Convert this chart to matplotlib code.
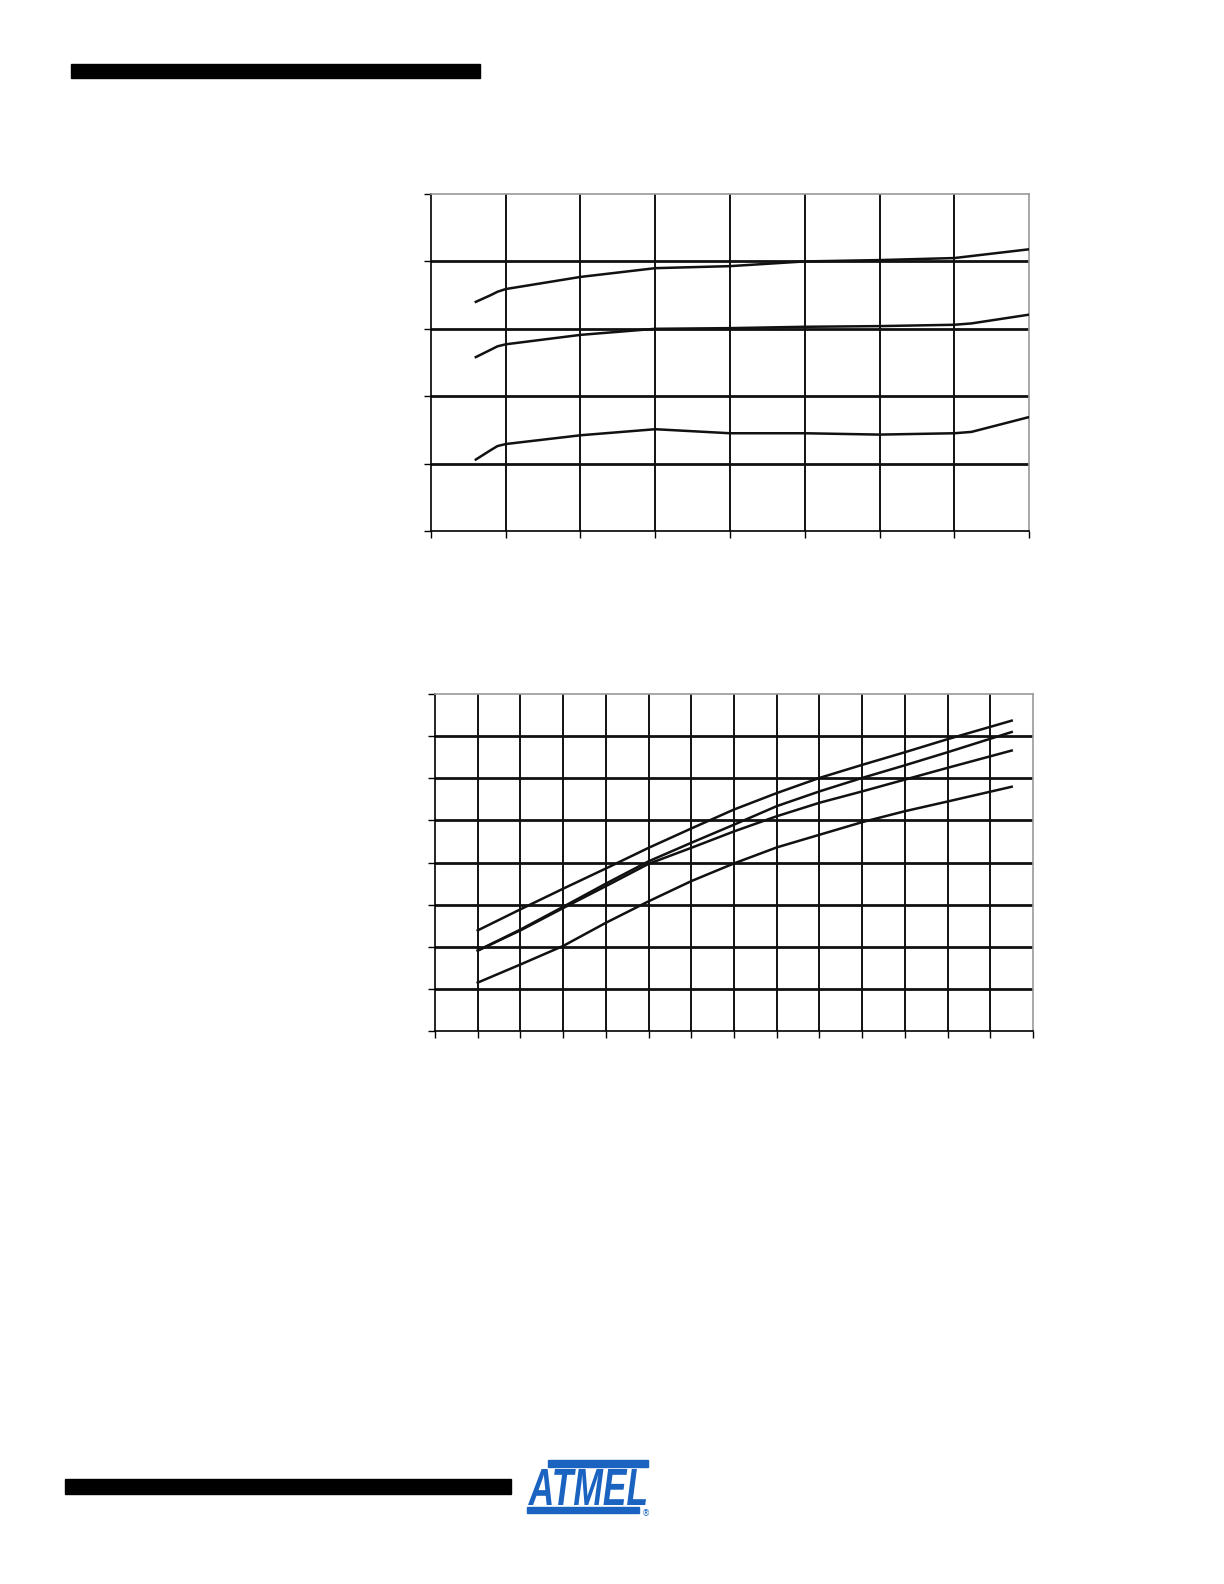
import numpy as np
import matplotlib.pyplot as plt
from matplotlib.patches import Rectangle, PathPatch
from matplotlib.textpath import TextPath
from matplotlib.font_manager import FontProperties
from matplotlib.transforms import Affine2D

# chart 1 (values in grid units)
x1 = [0.6, 0.8, 0.89, 1.0, 2.0, 3.0, 4.0, 5.0, 6.0, 7.0, 7.23, 8.0]
c1_top = [3.40, 3.50, 3.55, 3.59, 3.77, 3.90, 3.93, 4.00, 4.02, 4.05, 4.08, 4.18]
c1_mid = [2.58, 2.69, 2.74, 2.77, 2.91, 3.00, 3.01, 3.03, 3.04, 3.06, 3.08, 3.21]
c1_low = [1.06, 1.20, 1.26, 1.29, 1.42, 1.51, 1.45, 1.45, 1.43, 1.45, 1.47, 1.69]

# chart 2
x2 = [1, 2, 3, 4, 5, 6, 7, 8, 9, 10, 11, 12, 13.5]
c2_a = [2.39, 2.89, 3.38, 3.86, 4.35, 4.81, 5.26, 5.65, 6.01, 6.32, 6.62, 6.93, 7.37]
c2_b = [1.91, 2.41, 2.95, 3.50, 4.03, 4.47, 4.90, 5.34, 5.69, 6.01, 6.31, 6.62, 7.10]
c2_c = [1.91, 2.39, 2.92, 3.44, 3.97, 4.35, 4.74, 5.10, 5.42, 5.69, 5.97, 6.25, 6.66]
c2_d = [1.15, 1.58, 2.02, 2.57, 3.08, 3.56, 3.98, 4.36, 4.66, 4.96, 5.22, 5.45, 5.80]

fig = plt.figure(figsize=(12.24, 15.84), dpi=100)


def grid_axes(rect, nx, ny):
    ax = fig.add_axes(rect)
    ax.set_xlim(0, nx)
    ax.set_ylim(0, ny)
    ax.set_xticks(range(nx + 1))
    ax.set_yticks(range(ny + 1))
    ax.set_xticklabels([])
    ax.set_yticklabels([])
    ax.tick_params(direction='out', length=5, width=1, color='black')
    for x in range(1, nx):
        ax.axvline(x, color='#111111', lw=1.4, zorder=1)
    for y in range(1, ny):
        ax.axhline(y, color='#111111', lw=2.0, zorder=1)
    ax.spines['top'].set_color('#999999')
    ax.spines['right'].set_color('#999999')
    ax.spines['left'].set_color('black')
    ax.spines['bottom'].set_color('black')
    for s in ax.spines.values():
        s.set_linewidth(1.2)
    return ax


ax1 = grid_axes([0.3521, 0.6648, 0.4886, 0.2127], 8, 5)
for ys in (c1_top, c1_mid, c1_low):
    ax1.plot(x1, ys, color='#111111', lw=1.8, zorder=3,
             solid_joinstyle='round')

ax2 = grid_axes([0.3554, 0.3491, 0.4886, 0.2127], 14, 8)
for ys in (c2_a, c2_b, c2_c, c2_d):
    ax2.plot(x2, ys, color='#111111', lw=1.8, zorder=3,
             solid_joinstyle='round')

# page decorations: header and footer bars
W, H = 1224, 1584
fig.add_artist(Rectangle((71 / W, 1 - 78 / H), 409 / W, 14 / H,
                         transform=fig.transFigure, color='black'))
fig.add_artist(Rectangle((65 / W, 1 - 1494 / H), 446 / W, 15 / H,
                         transform=fig.transFigure, color='black'))

# Atmel logo (text squeezed to fit between the two bars)
blue = '#1a63c0'
fig.add_artist(Rectangle((548 / W, 1 - 1467 / H), 100 / W, 7 / H,
                         transform=fig.transFigure, color=blue))
fig.add_artist(Rectangle((527 / W, 1 - 1513 / H), 112 / W, 6 / H,
                         transform=fig.transFigure, color=blue))
tp = TextPath((0, 0), 'ATMEL', size=10,
              prop=FontProperties(family='Liberation Sans', weight='bold',
                                  style='italic'))
bb = tp.get_extents()
sx = 118 / bb.width
sy = 36 / bb.height
tr = (Affine2D().translate(-bb.x0, -bb.y0).scale(sx, sy)
      .translate(528 / W * 1224, (1 - 1505 / H) * 1584))
fig.add_artist(PathPatch(tp, transform=tr + Affine2D().scale(1.0),
                         color=blue, lw=0))
fig.text(646 / W, 1 - 1514 / H, '®', color=blue, fontsize=6,
         ha='center', va='center')

fig.savefig('out.png', dpi=100)
